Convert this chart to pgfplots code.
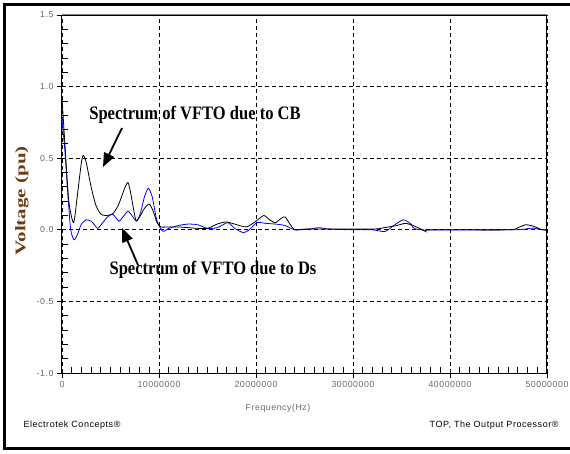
\documentclass[border=0pt]{standalone}
\usepackage{fontspec}
\setmainfont{Liberation Serif}
\newfontfamily\arialf{Liberation Sans}
\newfontfamily\arialw[LetterSpace=6]{Liberation Sans}
\usepackage{pgfplots}
\pgfplotsset{compat=1.18}
\usetikzlibrary{arrows.meta}
\definecolor{vlabel}{RGB}{110,60,20}
\definecolor{ticktxt}{RGB}{105,105,105}

\begin{document}
\begin{tikzpicture}[x=1pt,y=1pt]
\useasboundingbox (-62,-80) rectangle (508,373);
\begin{axis}[
  at={(0,0)}, anchor=south west,
  scale only axis, width=485pt, height=358pt,
  xmin=0, xmax=50000000, ymin=-1, ymax=1.5,
  xtick={0,10000000,20000000,30000000,40000000,50000000},
  xticklabels={0,10000000,20000000,30000000,40000000,50000000},
  ytick={-1,-0.5,0,0.5,1,1.5},
  yticklabels={-1.0,-0.5,0.0,0.5,1.0,1.5},
  scaled x ticks=false,
  minor x tick num=9, minor y tick num=4,
  xtick pos=left, ytick pos=left,
  tick align=outside,
  major tick length=5pt,
  minor tick length=-6pt,
  grid=major,
  major grid style={black, line width=0.7pt, dash pattern=on 4pt off 3pt},
  tick style={black, line width=0.8pt},
  axis line style={black, line width=1pt},
  ticklabel style={font=\arialw\fontsize{8.8}{9}\selectfont, text=ticktxt},
  /pgf/number format/assume math mode=true,
]
% Ds
\addplot[blue, line width=0.8pt, smooth, tension=0.4] coordinates {
(0,0.77) (300000,0.55) (600000,0.25) (900000,0.0) (1250000,-0.07)
(1600000,-0.03) (2000000,0.04) (2500000,0.07) (3000000,0.06) (3400000,0.03)
(3700000,0.01) (4200000,0.05) (4700000,0.09) (5200000,0.11) (5600000,0.08)
(5900000,0.06) (6400000,0.1) (6800000,0.13) (7200000,0.1) (7700000,0.06)
(8100000,0.12) (8500000,0.23) (8900000,0.29) (9300000,0.23) (9800000,0.06)
(10400000,-0.01) (11000000,0.01) (12000000,0.03) (13000000,0.04) (14000000,0.035)
(15000000,0.01) (16000000,0.015) (17100000,0.05) (17800000,0.01) (18700000,-0.02)
(19300000,0.0) (20100000,0.05) (21000000,0.045) (22000000,0.04) (23000000,0.03)
(24000000,0.0) (25500000,0.005) (26500000,0.015) (27500000,0.005) (30000000,0.0)
(32000000,0.0) (33300000,-0.012) (34200000,0.03) (35200000,0.07) (36000000,0.04)
(37000000,0.0) (46000000,0.0) (47500000,0.003) (48500000,0.012) (49500000,0.0)
(50000000,0.0)};
% CB
\addplot[black, line width=0.8pt, smooth, tension=0.4] coordinates {
(0,0.92) (300000,0.6) (700000,0.2) (1200000,0.05) (1600000,0.25)
(2000000,0.47) (2200000,0.52) (2500000,0.47) (3000000,0.3) (3500000,0.17)
(4000000,0.11) (4500000,0.10) (5200000,0.11) (5800000,0.17) (6400000,0.28)
(6800000,0.33) (7100000,0.25) (7600000,0.07) (8000000,0.09) (8500000,0.15)
(9000000,0.18) (9400000,0.13) (9800000,0.05) (10200000,0.02) (11000000,0.02)
(12000000,0.02) (13000000,0.015) (14000000,0.01) (15000000,0.01) (16000000,0.04)
(16900000,0.055) (17800000,0.04) (19000000,0.02) (20000000,0.06) (20800000,0.10)
(21400000,0.07) (22000000,0.05) (22600000,0.08) (23000000,0.09) (23500000,0.04)
(24000000,0.0) (25000000,0.005) (28000000,0.005) (32000000,0.005) (33000000,0.012)
(34500000,0.03) (35400000,0.045) (36200000,0.03) (37000000,0.005) (37500000,-0.012)
(38000000,0.0) (46000000,0.0) (47000000,0.015) (47800000,0.035) (48600000,0.025)
(49500000,0.0) (50000000,0.0)};
\end{axis}
% top edge of the axis box is lighter
\draw[gray, line width=1pt] (0,358) -- (485,358);
% annotations
\draw[line width=1.8pt, -{Triangle[length=14pt,width=11pt]}] (60,245) -- (41,206);
\draw[line width=1.8pt, -{Triangle[length=14pt,width=11pt]}] (76,108) -- (60,145);
\node at (133,258) {\scalebox{0.87}[1]{\fontsize{19}{19}\selectfont\bfseries Spectrum of VFTO due to CB}};
\node at (151,103) {\scalebox{0.87}[1]{\fontsize{19}{19}\selectfont\bfseries Spectrum of VFTO due to Ds}};
\node[text=vlabel] at (-40,172) {\rotatebox{90}{\scalebox{1}[0.7]{\fontsize{21}{21}\selectfont\bfseries Voltage (pu)}}};
\node[text=ticktxt, font=\arialw\fontsize{8.8}{9}\selectfont] at (216,-35) {Frequency(Hz)};
\node[anchor=west, font=\arialw\fontsize{9}{9}\selectfont] at (-42,-52) {Electrotek Concepts®};
\node[anchor=east, font=\arialw\fontsize{9}{9}\selectfont] at (500,-52) {TOP, The Output Processor®};
% outer frame
\draw[line width=3pt] (-57,-75) -- (-57,368);
\draw[line width=3pt] (-58.5,368) -- (508,368);
\draw[line width=3pt] (-58.5,-75) -- (508,-75);
\end{tikzpicture}
\end{document}
